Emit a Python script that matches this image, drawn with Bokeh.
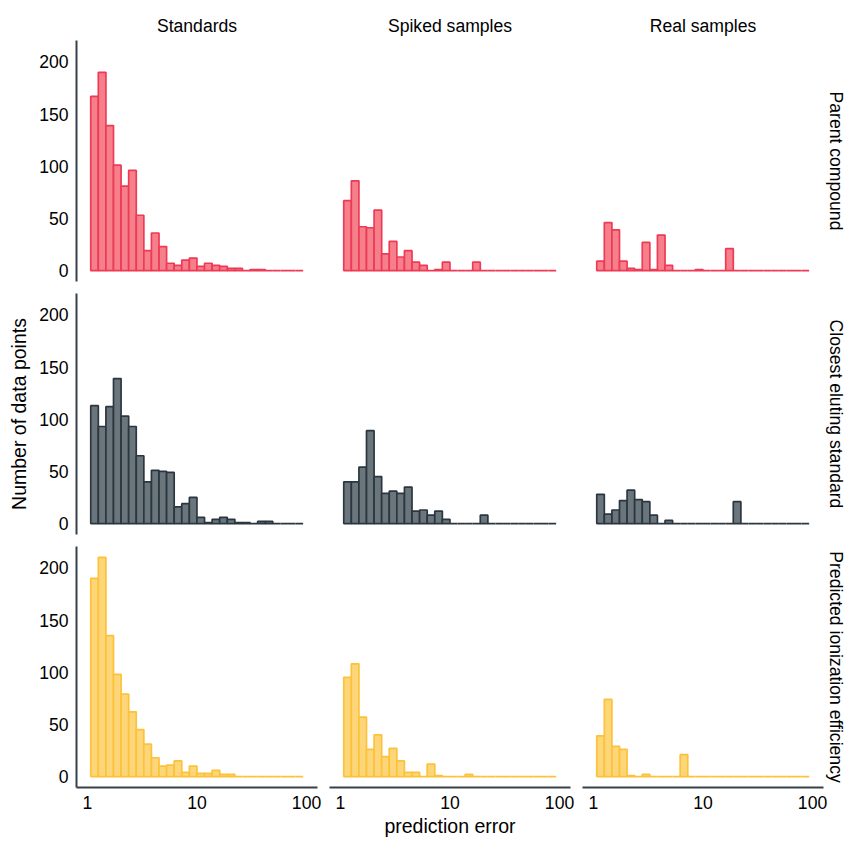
import numpy as np
from bokeh.plotting import figure
from bokeh.layouts import gridplot
from bokeh.models import Range1d, FixedTicker, PrintfTickFormatter, Title
from bokeh.embed import file_html
from bokeh.resources import INLINE

# ---------------- data ----------------
column_titles = ["Standards", "Spiked samples", "Real samples"]
row_titles = ["Parent compound", "Closest eluting standard", "Predicted ionization efficiency"]

# histogram binning (log10 of prediction error)
bin_start_log10 = 0.03
bin_width_log10 = 0.06925
n_bins = 28

# counts per bin
parent_standards = [167, 190, 139, 101, 81, 96, 53, 19, 36, 23, 7, 5, 10, 12, 4, 7, 5, 4, 2, 2, 0, 1, 1, 0, 0, 0, 0, 0]
parent_spiked = [67, 86, 42, 41, 58, 16, 28, 13, 19, 8, 5, 0, 1, 8, 0, 0, 0, 8, 0, 0, 0, 0, 0, 0, 0, 0, 0, 0]
parent_real = [9, 46, 39, 9, 2, 1, 27, 1, 34, 5, 0, 0, 0, 1, 0, 0, 0, 21, 0, 0, 0, 0, 0, 0, 0, 0, 0, 0]

closest_standards = [113, 93, 112, 139, 103, 93, 65, 40, 51, 50, 49, 16, 19, 25, 6, 1, 4, 6, 4, 1, 1, 0, 2, 2, 0, 0, 0, 0]
closest_spiked = [40, 40, 54, 89, 45, 29, 31, 29, 35, 12, 13, 8, 12, 4, 0, 0, 0, 0, 8, 0, 0, 0, 0, 0, 0, 0, 0, 0]
closest_real = [28, 9, 13, 22, 32, 23, 21, 8, 0, 3, 0, 0, 0, 0, 0, 0, 0, 0, 21, 0, 0, 0, 0, 0, 0, 0, 0, 0]

pie_standards = [190, 210, 135, 98, 79, 62, 45, 31, 18, 10, 11, 15, 4, 10, 3, 3, 6, 2, 2, 0, 0, 0, 0, 0, 0, 0, 0, 0]
pie_spiked = [95, 108, 57, 26, 40, 19, 27, 15, 4, 4, 0, 12, 1, 0, 0, 0, 2, 0, 0, 0, 0, 0, 0, 0, 0, 0, 0, 0]
pie_real = [39, 74, 29, 26, 1, 0, 2, 0, 0, 0, 0, 21, 0, 0, 0, 0, 0, 0, 0, 0, 0, 0, 0, 0, 0, 0, 0, 0]

x_ticks = [1, 10, 100]
y_ticks = [0, 50, 100, 150, 200]
x_label = "prediction error"
y_label = "Number of data points"

# ---------------- styling ----------------
counts = [
    [parent_standards, parent_spiked, parent_real],
    [closest_standards, closest_spiked, closest_real],
    [pie_standards, pie_spiked, pie_real],
]
fills = ["#f5808c", "#6b757c", "#fdd67a"]
lines = ["#ee3a55", "#2b3740", "#fcc23a"]
FONT = "Liberation Sans"
AXIS_COLOR = "#36414a"
FRAME_W, FRAME_H = 241, 241

edges = 10 ** (bin_start_log10 + bin_width_log10 * np.arange(n_bins + 1))

grid = []
for r in range(3):
    row = []
    for c in range(3):
        p = figure(
            frame_width=FRAME_W, frame_height=FRAME_H,
            x_axis_type="log",
            x_range=Range1d(10 ** -0.1, 10 ** 2.1),
            y_range=Range1d(-10.5, 220.5),
            x_axis_location="below" if r == 2 else None,
            y_axis_location="left" if c == 0 else None,
            output_backend="svg", toolbar_location=None,
            min_border_left=76 if c == 0 else 6,
            min_border_right=24 if c == 2 else 6,
            min_border_top=40 if r == 0 else 6,
            min_border_bottom=53 if r == 2 else 6,
            title=column_titles[c] if r == 0 else None,
        )
        p.outline_line_color = None
        p.xgrid.visible = False
        p.ygrid.visible = False
        p.background_fill_color = "white"
        p.border_fill_color = "white"

        p.quad(left=edges[:-1], right=edges[1:], bottom=0, top=counts[r][c],
               fill_color=fills[r], line_color=lines[r], line_width=1.7)

        if r == 0:
            p.title.align = "center"
            p.title.text_font = FONT
            p.title.text_font_size = "17.6px"
            p.title.text_font_style = "normal"
            p.title.text_color = "black"
            p.title.standoff = 9

        if c == 2:
            p.add_layout(Title(text=row_titles[r], align="center", text_font=FONT,
                               text_font_size="17.6px", text_font_style="normal",
                               text_color="black", standoff=4), "right")

        axes = []
        if r == 2:
            ax = p.xaxis[0]
            ax.ticker = FixedTicker(ticks=x_ticks)
            ax.formatter = PrintfTickFormatter(format="%d")
            ax.major_label_standoff = 8
            if c == 1:
                ax.axis_label = x_label
                ax.axis_label_standoff = 3
            axes.append(ax)
        if c == 0:
            ax = p.yaxis[0]
            ax.ticker = FixedTicker(ticks=y_ticks)
            ax.major_label_standoff = 8
            if r == 1:
                ax.axis_label = y_label
                ax.axis_label_standoff = 6
            axes.append(ax)
        for ax in axes:
            ax.axis_line_color = AXIS_COLOR
            ax.axis_line_width = 2
            ax.major_tick_line_color = None
            ax.minor_tick_line_color = None
            ax.major_tick_in = 0
            ax.major_tick_out = 0
            ax.minor_tick_in = 0
            ax.minor_tick_out = 0
            ax.major_label_text_font = FONT
            ax.major_label_text_font_size = "17.6px"
            ax.major_label_text_color = "black"
            ax.axis_label_text_font = FONT
            ax.axis_label_text_font_size = "19.5px"
            ax.axis_label_text_font_style = "normal"
            ax.axis_label_text_color = "black"
        row.append(p)
    grid.append(row)

layout = gridplot(grid, toolbar_location=None)

with open("out.html", "w") as f:
    f.write(file_html(layout, INLINE))
